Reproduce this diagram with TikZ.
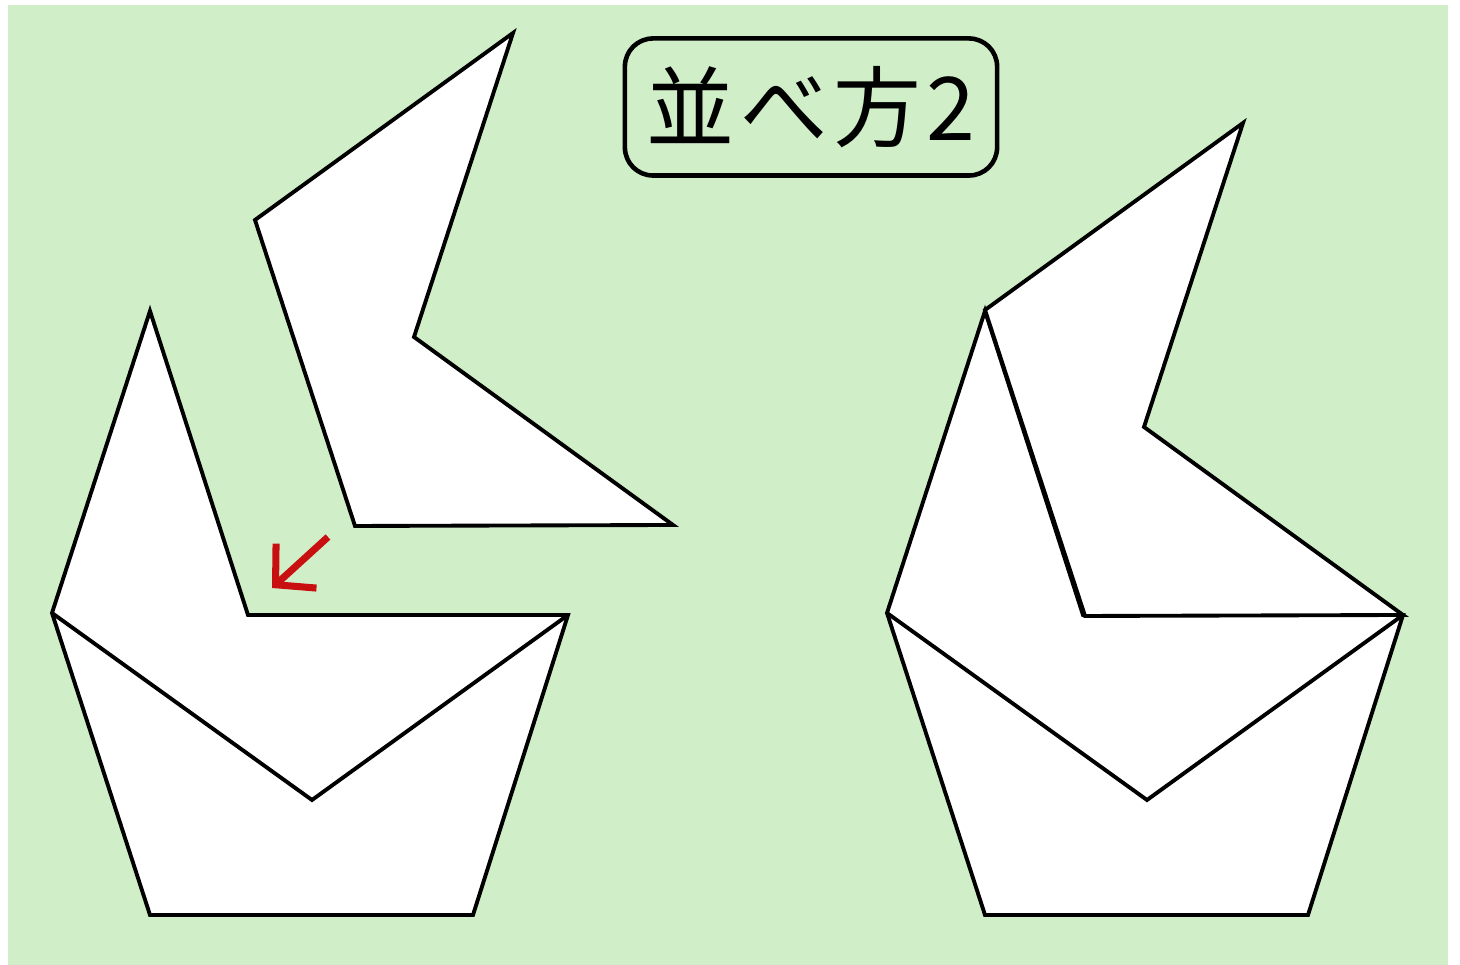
\documentclass[tikz,border=0pt]{standalone}
\usepackage{fontspec}
\newfontfamily\jpfont{Noto Sans CJK JP}
\usetikzlibrary{arrows.meta}
\definecolor{bggreen}{RGB}{208,238,200}
\definecolor{arrowred}{RGB}{200,16,16}

\begin{document}
\begin{tikzpicture}[x=0.01cm,y=-0.01cm,
  piece/.style={fill=white,draw=black,line width=1.1pt,line join=miter},
  seam/.style={draw=black,line width=1.1pt}]
\useasboundingbox (0,0) rectangle (1460,965);
\fill[bggreen] (8,5) rectangle (1448,965);
% title
\node[draw=black,line width=1.3pt,rounded corners=8pt,minimum width=3.72cm,minimum height=1.37cm,inner sep=0pt,font=\jpfont\fontsize{25}{25}\selectfont] (title) at (811,107) {並\kern1.5pt べ\kern1.5pt 方\kern1.5pt 2};
% left: loose piece above the base
\filldraw[piece] (513,33) -- (255,220) -- (355,526) -- (673,525) -- (414,337) -- cycle;
\filldraw[piece] (150,311) -- (52,613) -- (150,915) -- (473,915) -- (568,615) -- (248,615) -- cycle;
\draw[seam] (52,613) -- (312,800) -- (568,615);
% red arrow to the gap
\coordinate (tail) at (328,537);
\coordinate (tip) at (272,588);
\draw[arrowred,line width=2pt,-{Straight Barb[length=2.8mm,width=6mm,line width=2pt]}] (tail) -- (tip);
% right: piece fitted in
\filldraw[piece] (985,311) -- (887,613) -- (985,915) -- (1308,915) -- (1403,615) -- (1083,615) -- cycle;
\draw[seam] (887,613) -- (1147,800) -- (1403,615);
\filldraw[piece] (1243,123) -- (985,310) -- (1085,616) -- (1403,615) -- (1144,427) -- cycle;
\end{tikzpicture}
\end{document}
